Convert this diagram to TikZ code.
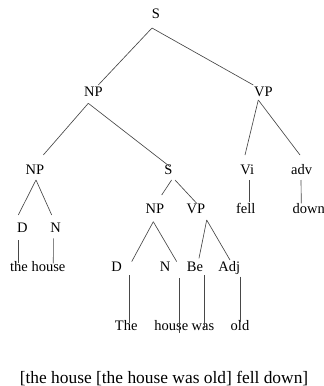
\documentclass[tikz,border=0pt]{standalone}
\usepackage{fontspec}
\setmainfont{Liberation Serif}
\begin{document}
\begin{tikzpicture}[x=1pt,y=1pt,
  lbl/.style={inner sep=0pt, anchor=center, font=\fontsize{14.5}{16}\selectfont, text height=0.66em, text depth=0pt},
  edge/.style={draw=black!72, line width=0.65pt}]
\useasboundingbox (0,0) rectangle (324,-386);
% nodes
\node[lbl] (S)   at (156,-15) {S};
\node[lbl] (NP1) at (93.3,-93.3) {NP};
\node[lbl] (VP1) at (263.3,-93.3) {VP};
\node[lbl] (NP2) at (35,-170.7) {NP};
\node[lbl] (S2)  at (168.3,-170.7) {S};
\node[lbl] (Vi)  at (247.3,-170.7) {Vi};
\node[lbl] (adv) at (301.7,-170.7) {adv};
\node[lbl] (fell) at (245.7,-210) {fell};
\node[lbl] (down) at (308.8,-210) {down};
\node[lbl] (D1) at (22.3,-229.3) {D};
\node[lbl] (N1) at (55.7,-229.3) {N};
\node[lbl] (th) at (37.8,-268.3) {the house};
\node[lbl] (NP3) at (155,-210) {NP};
\node[lbl] (VP3) at (195.8,-210) {VP};
\node[lbl] (D3) at (116.7,-268.3) {D};
\node[lbl] (N3) at (165,-268.3) {N};
\node[lbl] (Be) at (195,-268.3) {Be};
\node[lbl] (Adj) at (229.2,-268.3) {Adj};
\node[lbl] (The) at (126.2,-326.7) {The};
\node[lbl] (house) at (171.3,-326.7) {house};
\node[lbl] (was) at (203,-326.7) {was};
\node[lbl] (old) at (240,-326.7) {old};
\node[inner sep=0pt, anchor=center, font=\fontsize{17.4}{20}\selectfont, text height=0.66em, text depth=0pt] (sent) at (164,-380) {[the house [the house was old] fell down]};
% edges
\draw[edge] ([shift={(-4,-13)}]S.center) -- ([shift={(5,8.3)}]NP1.center);
\draw[edge] ([shift={(-4,-13)}]S.center) -- ([shift={(-10,8.3)}]VP1.center);
\draw[edge] ([shift={(-5,-10)}]NP1.center) -- ([shift={(8.3,15.7)}]NP2.center);
\draw[edge] ([shift={(-5,-10)}]NP1.center) -- ([shift={(1.7,4)}]S2.center);
\draw[edge] ([shift={(-5,-6.7)}]VP1.center) -- ([shift={(-2.3,15.7)}]Vi.center);
\draw[edge] ([shift={(-5,-6.7)}]VP1.center) -- ([shift={(-1.7,15.7)}]adv.center);
\draw[edge] ([shift={(2,-9.3)}]Vi.center) -- ([shift={(3.6,8.3)}]fell.center);
\draw[edge] ([shift={(-0.7,-9.3)}]adv.center) -- ([shift={(-7.5,6.7)}]down.center);
\draw[edge] ([shift={(1,-9.3)}]NP2.center) -- ([shift={(-4,14.3)}]D1.center);
\draw[edge] ([shift={(1,-9.3)}]NP2.center) -- ([shift={(-4,14.3)}]N1.center);
\draw[edge] ([shift={(-4,-10.7)}]D1.center) -- ([shift={(-19.5,5)}]th.center);
\draw[edge] ([shift={(-2.3,-9)}]N1.center) -- ([shift={(15.5,5)}]th.center);
\draw[edge] ([shift={(3.3,-9.3)}]S2.center) -- ([shift={(6.7,15)}]NP3.center);
\draw[edge] ([shift={(6.7,-9.3)}]S2.center) -- ([shift={(0.9,6.7)}]VP3.center);
\draw[edge] ([shift={(-1.7,-11.7)}]NP3.center) -- ([shift={(15,6.7)}]D3.center);
\draw[edge] ([shift={(-1.7,-11.7)}]NP3.center) -- ([shift={(11.7,6.7)}]N3.center);
\draw[edge] ([shift={(10.9,-10)}]VP3.center) -- ([shift={(4,10)}]Be.center);
\draw[edge] ([shift={(10.9,-10)}]VP3.center) -- ([shift={(0.8,8.3)}]Adj.center);
\draw[edge] ([shift={(12.3,-6.7)}]D3.center) -- ([shift={(2.8,3.4)}]The.center);
\draw[edge] ([shift={(14.3,-10)}]N3.center) -- ([shift={(8,-6.6)}]house.center);
\draw[edge] ([shift={(9.3,-6.7)}]Be.center) -- ([shift={(1.3,-1.6)}]was.center);
\draw[edge] ([shift={(10.8,-8.4)}]Adj.center) -- ([shift={(0,5)}]old.center);
\end{tikzpicture}
\end{document}
